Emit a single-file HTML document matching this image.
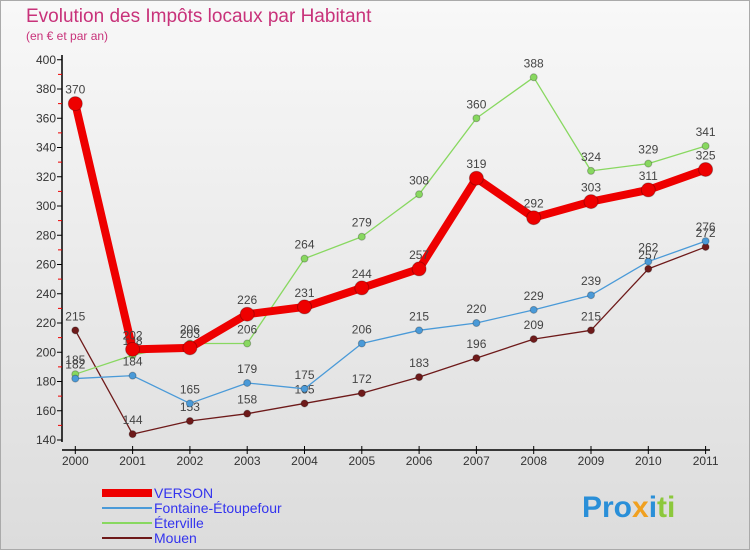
<!DOCTYPE html>
<html><head><meta charset="utf-8"><style>
body{margin:0;width:750px;height:550px;overflow:hidden;font-family:"Liberation Sans",sans-serif}
</style></head><body>
<svg width="750" height="550" xmlns="http://www.w3.org/2000/svg" font-family="Liberation Sans, sans-serif">
<defs><linearGradient id="bg" x1="0" y1="0" x2="0" y2="1"><stop offset="0" stop-color="#f8f8f8"/><stop offset="1" stop-color="#dcdcdc"/></linearGradient></defs>
<rect x="0.5" y="0.5" width="749" height="549" fill="url(#bg)" stroke="#aaa"/>
<text x="26" y="22" font-size="19" fill="#c8327a">Evolution des Impôts locaux par Habitant</text>
<text x="26" y="40" font-size="12" fill="#c8327a">(en € et par an)</text>
<g id="axes"></g>
<g id="series"></g>
<g id="legend"></g>
<text x="582" y="517" font-size="30" font-weight="bold"><tspan fill="#2a8fd8">Pro</tspan><tspan fill="#f0a020">x</tspan><tspan fill="#2a8fd8">i</tspan><tspan fill="#8cc83c">ti</tspan></text>
</svg>
<script>
const years=[2000,2001,2002,2003,2004,2005,2006,2007,2008,2009,2010,2011];
const yTicks=[140,160,180,200,220,240,260,280,300,320,340,360,380,400];
const verson=[370,202,203,226,231,244,257,319,292,303,311,325];
const fontaine=[182,184,165,179,175,206,215,220,229,239,262,276];
const eterville=[185,198,206,206,264,279,308,360,388,324,329,341];
const mouen=[215,144,153,158,165,172,183,196,209,215,257,272];
const NS="http://www.w3.org/2000/svg";
const X=i=>75.3+i*57.3;
const Y=v=>440-(v-140)*1.4625;
function mk(t,a,p){const e=document.createElementNS(NS,t);for(const k in a)e.setAttribute(k,a[k]);p.appendChild(e);return e;}
const ax=document.getElementById('axes');
const yl=mk('line',{x1:62,y1:55,x2:62,y2:442,stroke:'#000','stroke-width':1.5},ax);


const xl=mk('line',{x1:62,y1:450,x2:710,y2:450,stroke:'#000','stroke-width':1.5},ax);


yTicks.forEach(v=>{
  mk('line',{x1:57,y1:Y(v),x2:62,y2:Y(v),stroke:'#000'},ax);
  if(v<400)mk('line',{x1:58,y1:Y(v+10),x2:62,y2:Y(v+10),stroke:'#e00'},ax);
  const t=mk('text',{x:56,y:Y(v)+4,'font-size':12,'text-anchor':'end',fill:'#333'},ax);
  t.textContent=v;
  
  
});
years.forEach((y,i)=>{
  mk('line',{x1:X(i),y1:446,x2:X(i),y2:454,stroke:'#000'},ax);
  const t=mk('text',{x:X(i),y:465,'font-size':12,'text-anchor':'middle',fill:'#333'},ax);
  t.textContent=y;
  
  
});
const sg=document.getElementById('series');
function draw(vals,color,w,r,name){
  const g=mk('g',{},sg);
  
  
  const pl=mk('polyline',{points:vals.map((v,i)=>X(i)+','+Y(v)).join(' '),fill:'none',stroke:color,'stroke-width':w,'stroke-linejoin':'round'},g);
  
  
  vals.forEach((v,i)=>{
    const c=mk('circle',{cx:X(i),cy:Y(v),r:r,fill:color,stroke:'rgba(0,0,0,0.25)'},g);
    
    
    const t=mk('text',{x:X(i),y:Y(v)-10,'font-size':12,'text-anchor':'middle',fill:'#444'},g);
    t.textContent=v;
    
    
  });
}
draw(mouen,'#6e1a1a',1.3,3.5,'mouen');
draw(eterville,'#88d860',1.3,3.5,'eterville');
draw(fontaine,'#4a9ad8',1.3,3.5,'fontaine');
draw(verson,'#ee0000',8,7,'verson');
const lg=document.getElementById('legend');
[['VERSON','#ee0000',8],['Fontaine-Étoupefour','#4a9ad8',2],['Éterville','#88d860',2],['Mouen','#6e1a1a',2]].forEach((d,i)=>{
  const y=493+i*15;
  const g=mk('g',{},lg);
  
  
  mk('line',{x1:102,y1:y,x2:152,y2:y,stroke:d[1],'stroke-width':d[2]},g);
  const t=mk('text',{x:154,y:y+5,'font-size':14,fill:'#3333ee'},g);
  t.textContent=d[0];
});
</script>
</body></html>
